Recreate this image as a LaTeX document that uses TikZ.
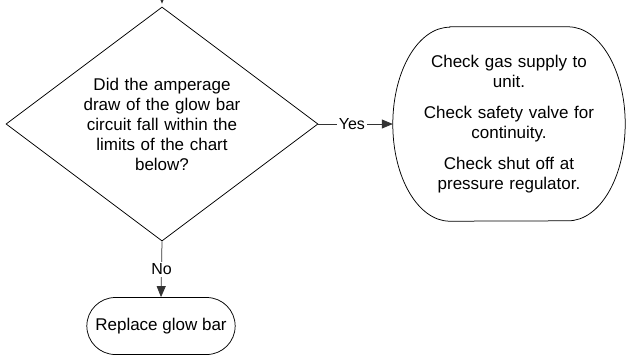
\documentclass[tikz,border=0pt]{standalone}
\usepackage{fontspec}
\setmainfont{Liberation Sans}
\usetikzlibrary{shapes.geometric,shapes.misc,arrows.meta,positioning}

\begin{document}
\begin{tikzpicture}[
    x=1pt,y=-1pt,
    question/.style = {diamond,draw=black,line width=0.75pt,inner sep=0pt,
                       shape aspect=1.333,minimum width=312pt,minimum height=234pt,
                       align=center,text width=160pt,font=\fontsize{17}{20}\selectfont},
    checks/.style   = {rectangle,inner sep=0pt,minimum width=232pt,minimum height=194pt,
                       align=center,text width=200pt,font=\fontsize{17}{20}\selectfont},
    fin/.style      = {rounded rectangle,draw=black,line width=0.75pt,
                       minimum width=155pt,minimum height=57pt,font=\fontsize{17}{20}\selectfont},
    lien/.style     = {draw=black!80,line width=0.75pt,-{Triangle[length=11pt,width=9pt]}},
    etiq/.style     = {fill=white,inner sep=2pt,font=\fontsize{16}{18}\selectfont},
  ]
  \useasboundingbox (0,0) rectangle (626,357);

  % -- decision and its two outcomes ----------------------------------------
  \node[question] (dec) at (162,124) {Did the amperage\\draw of the glow bar\\circuit fall within the\\limits of the chart\\below?};
  \node[checks]   (chk) at (509,124) {Check gas supply to\\unit.\\[11pt]Check safety valve for\\continuity.\\[11pt]Check shut off at\\pressure regulator.};
  \node[fin]      (rep) at (161,326) {Replace glow bar};

  % outline of the action box: flat top and bottom, curved sides
  \draw[line width=0.75pt]
    ([xshift=57pt]chk.north west) -- ([xshift=-57pt]chk.north east)
      arc[start angle=90,end angle=-90,x radius=57pt,y radius=97pt]
      -- ([xshift=57pt]chk.south west)
      arc[start angle=270,end angle=90,x radius=57pt,y radius=97pt] -- cycle;

  % -- connectors ------------------------------------------------------------
  \coordinate (entree) at (162,-20);
  \draw[lien,shorten >=3pt] (entree) -- (dec.north);
  \draw[lien] (dec.east)  -- node[etiq,pos=0.45] {Yes} (chk.west);
  \draw[lien] (dec.south) -- node[etiq] {No} (rep.north);

\end{tikzpicture}
\end{document}
